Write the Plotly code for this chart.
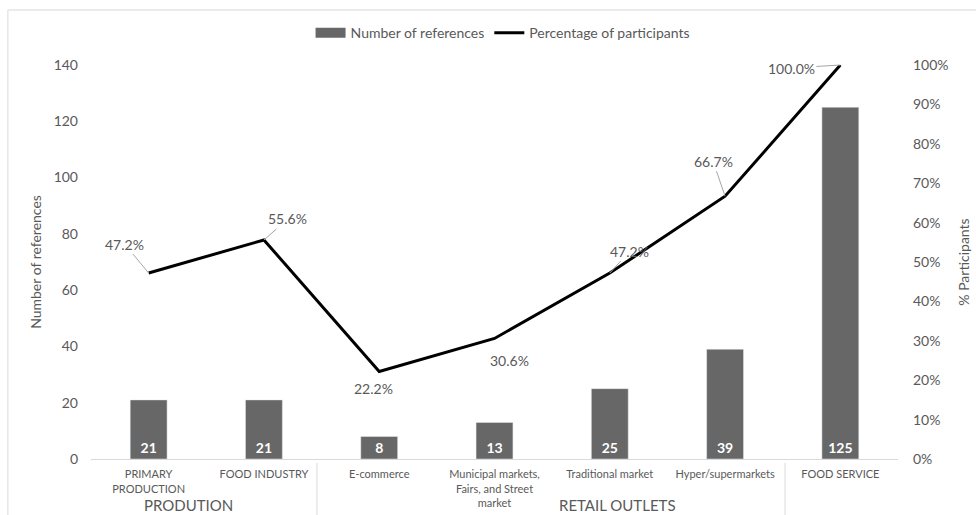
import plotly.graph_objects as go

categories = ["PRIMARY<br>PRODUCTION", "FOOD INDUSTRY", "E-commerce",
              "Municipal markets,<br>Fairs, and Street<br>market",
              "Traditional market", "Hyper/supermarkets", "FOOD SERVICE"]
group_names = ["PRODUTION", "RETAIL OUTLETS"]
group_label_pos = [0.35, 4.07]          # category-index position of group labels
group_dividers = [-0.63, 1.46, 5.52]     # category-index positions of divider lines
references = [21, 21, 8, 13, 25, 39, 125]
participants = [0.472, 0.556, 0.222, 0.306, 0.472, 0.667, 1.0]
pct_labels = ["47.2%", "55.6%", "22.2%", "30.6%", "47.2%", "66.7%", "100.0%"]
# label offsets (px) relative to each point
label_dx = [-24, 24, -6, 15, 20, -12, -49]
label_dy = [-29, -21, 17, 22, -22, -35, 3]
label_arrow = [True, True, False, False, True, True, True]

FONT = "Lato"
TXT = "#595959"
BAR = "#676767"

fig = go.Figure()
fig.add_trace(go.Bar(
    x=categories, y=references, name="Number of references",
    marker_color=BAR, width=0.32, showlegend=False,
    text=["<b>%d</b>" % v for v in references], textposition="inside",
    insidetextanchor="start", textangle=0, constraintext="none",
    textfont=dict(color="white", size=14, family=FONT),
))
# legend swatch (wide rectangle like the reference)
fig.add_trace(go.Scatter(
    x=[None], y=[None], name="Number of references", mode="lines",
    line=dict(color=BAR, width=10),
))
fig.add_trace(go.Scatter(
    x=categories, y=participants, name="Percentage of participants",
    mode="lines", line=dict(color="black", width=3), yaxis="y2",
))

for i, (p, t) in enumerate(zip(participants, pct_labels)):
    fig.add_annotation(
        x=i, y=p, xref="x", yref="y2", text=t,
        showarrow=True, arrowhead=0, arrowwidth=1,
        arrowcolor="#a6a6a6" if label_arrow[i] else "rgba(0,0,0,0)",
        ax=label_dx[i], ay=label_dy[i], standoff=0,
        font=dict(size=14, color=TXT, family=FONT),
    )

for g, gx in zip(group_names, group_label_pos):
    fig.add_annotation(x=gx, y=-0.117, xref="x", yref="paper", text=g,
                       showarrow=False, yanchor="middle",
                       font=dict(size=15, color=TXT, family=FONT))

for dx in group_dividers:
    fig.add_shape(type="line", xref="x", yref="paper", x0=dx, x1=dx,
                  y0=-0.01, y1=-0.2, line=dict(color="#d9d9d9", width=1))

fig.update_layout(
    width=976, height=515,
    margin=dict(l=91, r=78, t=65, b=56, autoexpand=False),
    paper_bgcolor="white", plot_bgcolor="white",
    font=dict(family=FONT, color=TXT, size=13),
    showlegend=True,
    legend=dict(orientation="h", x=0.51, xanchor="center", y=1.081, yanchor="middle",
                font=dict(size=14, color=TXT, family=FONT), itemwidth=30,
                bgcolor="rgba(0,0,0,0)"),
    xaxis=dict(type="category", showline=True, linecolor="#d9d9d9",
               range=[-0.5, 6.5],
               tickfont=dict(size=11, color=TXT, family=FONT),
               ticks="", fixedrange=True, automargin=False, ticklabelstandoff=5),
    yaxis=dict(range=[0, 140], dtick=20, showgrid=False, zeroline=False, automargin=False,
               title=dict(text="Number of references", font=dict(size=14, color=TXT, family=FONT), standoff=8),
               tickfont=dict(size=14, color=TXT, family=FONT), ticklabelstandoff=12),
    yaxis2=dict(range=[0, 1], dtick=0.1, tickformat=".0%", overlaying="y", side="right",
                showgrid=False, zeroline=False, automargin=False,
                title=dict(text="% Participants", font=dict(size=14, color=TXT, family=FONT), standoff=11),
                tickfont=dict(size=14, color=TXT, family=FONT), ticklabelstandoff=14),
)
fig.add_shape(type="rect", xref="paper", yref="paper",
              x0=-0.103, x1=1.2, y0=-0.3, y1=1.1396,
              line=dict(color="#d9d9d9", width=1), layer="below")

fig.write_html("out.html")
